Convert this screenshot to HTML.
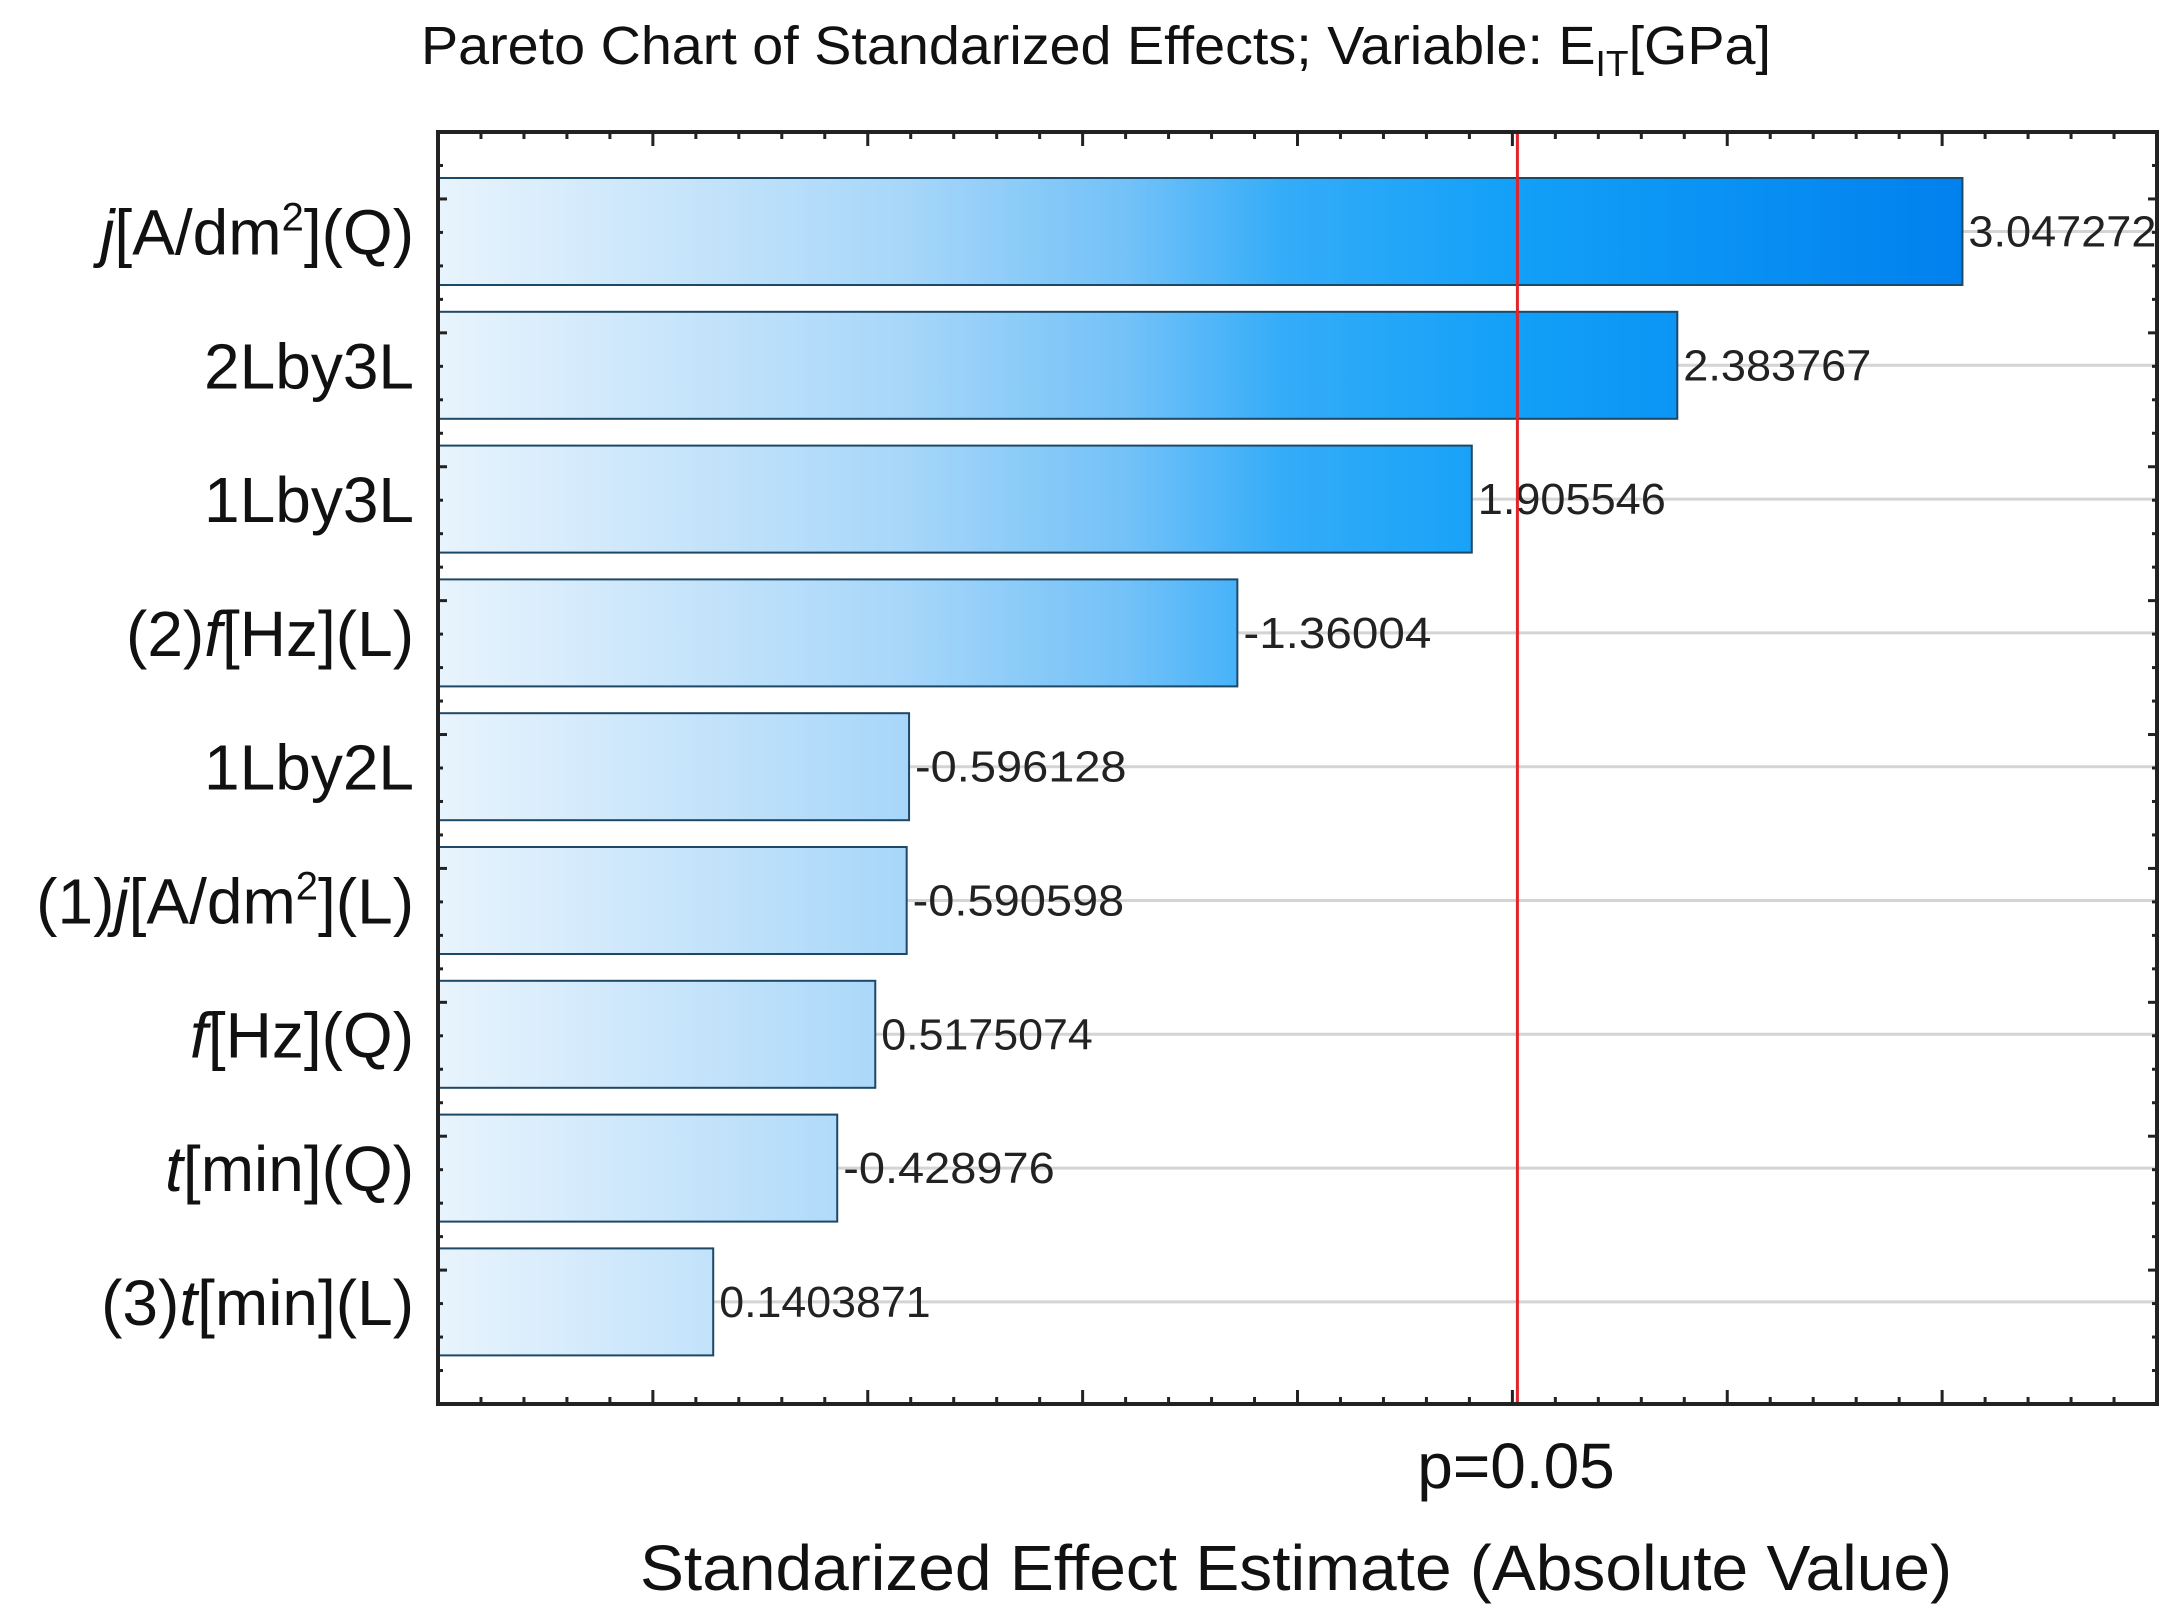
<!DOCTYPE html>
<html><head><meta charset="utf-8"><style>
html,body{margin:0;padding:0;background:#fff;}
svg{display:block;font-family:"Liberation Sans",Arial,sans-serif;}
</style></head><body>
<svg id="chart" width="2179" height="1622" viewBox="0 0 2179 1622">
<defs>
<linearGradient id="barGrad" gradientUnits="userSpaceOnUse" x1="438" y1="0" x2="1975" y2="0">
<stop offset="0" stop-color="#e8f4fd"/>
<stop offset="0.12" stop-color="#cfe8fb"/>
<stop offset="0.3" stop-color="#a8d7f9"/>
<stop offset="0.45" stop-color="#72c1f8"/>
<stop offset="0.55" stop-color="#34acf8"/>
<stop offset="0.7" stop-color="#12a0f8"/>
<stop offset="1" stop-color="#0080ee"/>
</linearGradient>
</defs>
<text x="1096" y="64" font-size="54" text-anchor="middle" fill="#111" textLength="1350" lengthAdjust="spacingAndGlyphs">Pareto Chart of Standarized Effects; Variable: E<tspan font-size="36" dy="12">IT</tspan><tspan dy="-12">[GPa]</tspan></text>
<g id="grid"></g>
<g id="bars"></g>
<g id="axes"></g>
<text x="1516" y="1488" font-size="64" text-anchor="middle" fill="#111">p=0.05</text>
<text x="1296" y="1590" font-size="64" text-anchor="middle" fill="#111" textLength="1312" lengthAdjust="spacingAndGlyphs">Standarized Effect Estimate (Absolute Value)</text>
</svg>
<script>
const categories = ["j[A/dm2](Q)","2Lby3L","1Lby3L","(2)f[Hz](L)","1Lby2L","(1)j[A/dm2](L)","f[Hz](Q)","t[min](Q)","(3)t[min](L)"];
const labelsHtml = [
 '<tspan font-style="italic">j</tspan>[A/dm<tspan font-size="40" dy="-24">2</tspan><tspan dy="24">](Q)</tspan>',
 '2Lby3L','1Lby3L',
 '(2)<tspan font-style="italic">f</tspan>[Hz](L)',
 '1Lby2L',
 '(1)<tspan font-style="italic">j</tspan>[A/dm<tspan font-size="40" dy="-24">2</tspan><tspan dy="24">](L)</tspan>',
 '<tspan font-style="italic">f</tspan>[Hz](Q)',
 '<tspan font-style="italic">t</tspan>[min](Q)',
 '(3)<tspan font-style="italic">t</tspan>[min](L)'];
const effects = [3.047272, 2.383767, 1.905546, 1.36004, 0.596128, 0.590598, 0.5175074, 0.428976, 0.1403871];
const valueLabels = ["3.047272","2.383767","1.905546","-1.36004","-0.596128","-0.590598","0.5175074","-0.428976","0.1403871"];
const pCritical = 2.0117;
const xMin = -0.5, xMax = 3.5;

const L=438,R=2157,T=132,B=1404;
const sx = v => L + (v - xMin)/(xMax - xMin)*(R-L);
const rowTop = 178, pitch = 133.8, barH = 107;
const NS="http://www.w3.org/2000/svg";
function mk(tag, attrs, parent){const e=document.createElementNS(NS,tag);for(const k in attrs)e.setAttribute(k,attrs[k]);parent.appendChild(e);return e;}
const grid=document.getElementById('grid'), bars=document.getElementById('bars'), axes=document.getElementById('axes');

categories.forEach((c,i)=>{
  const cy = rowTop + i*pitch + barH/2;
  const g = mk('line',{x1:L,x2:R,y1:cy,y2:cy,stroke:'#d4d4d4','stroke-width':3},grid);
  
  
  const r = mk('rect',{x:L,y:rowTop+i*pitch,width:sx(effects[i])-L,height:barH,fill:'url(#barGrad)',stroke:'#1d4866','stroke-width':2},bars);
  
  
  const vt = mk('text',{x:sx(effects[i])+6,y:cy+15,'font-size':44,fill:'#222',textLength:String(valueLabels[i].length*23.5),lengthAdjust:'spacingAndGlyphs'},bars);
  vt.textContent = valueLabels[i];
  
  
  const lt = mk('text',{x:414,y:cy+23,'font-size':64,'text-anchor':'end',fill:'#111'},axes);
  lt.innerHTML = labelsHtml[i];
  
  
});

const pl = mk('line',{x1:sx(pCritical),x2:sx(pCritical),y1:T,y2:B,stroke:'#e0242a','stroke-width':3},axes);



const fr = mk('rect',{x:L,y:T,width:R-L,height:B-T,fill:'none',stroke:'#222','stroke-width':4},axes);



for(let k=0;k<=40;k++){
  const v = xMin + k*0.1, x = sx(v), major = k%5===0, len = major?14:7;
  const t1 = mk('line',{x1:x,x2:x,y1:B,y2:B-len,stroke:'#222','stroke-width':3},axes);
  
  
  const t2 = mk('line',{x1:x,x2:x,y1:T,y2:T+len,stroke:'#222','stroke-width':3},axes);
  
  
}
for(let k=0;k<=38;k++){
  const y = T + k*(B-T)/38, len = (k%4===2)?9:5;
  const t = mk('line',{x1:L,x2:L+len,y1:y,y2:y,stroke:'#222','stroke-width':3},axes);
  
  
  const t2 = mk('line',{x1:R,x2:R-len,y1:y,y2:y,stroke:'#222','stroke-width':3},axes);
  
  
}
</script>
</body></html>
